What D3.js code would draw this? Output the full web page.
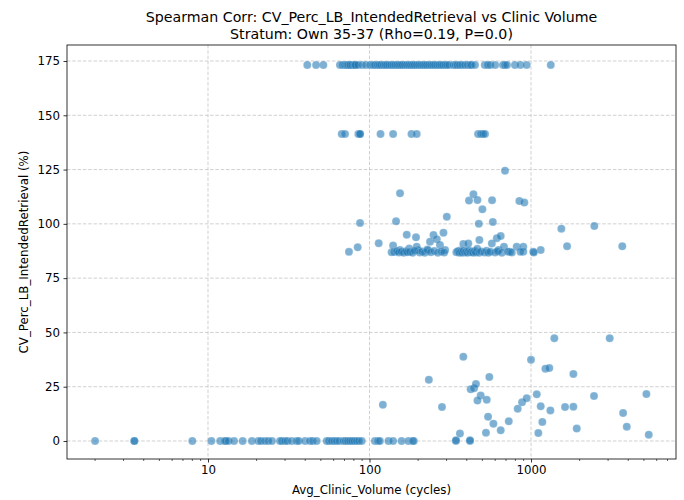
<!DOCTYPE html>
<html>
<head>
<meta charset="utf-8">
<script src="https://cdn.jsdelivr.net/npm/d3@7"></script>
<style>
  body { margin: 0; background: #fff; }
  text { font-family: "DejaVu Sans", sans-serif; fill: #000; }
</style>
</head>
<body>
<div id="scatter"></div>
<script>

// titles and axis labels
let titleLines = [
	"Spearman Corr: CV_Perc_LB_IntendedRetrieval vs Clinic Volume",
	"Stratum: Own 35-37 (Rho=0.19, P=0.0)"
];
let xLabel = "Avg_Clinic_Volume (cycles)";
let yLabel = "CV_Perc_LB_IntendedRetrieval (%)";

let xTicks = [10, 100, 1000];
let yTicks = [0, 25, 50, 75, 100, 125, 150, 175];

// clinics sitting at CV = 0
let zeroRowVolumes = [
	2.0, 3.5, 3.5, 8.0, 10.5, 11.9, 12.7, 12.9, 13.4, 14.5, 16.4, 18.7, 20.5, 21.3,
	22.5, 23.6, 24.9, 27.9, 28.6, 30.0, 31.0, 33.0, 35.4, 36.5, 39.9, 42.8, 44.5,
	47.1, 54.3, 56.0, 58.4, 60.5, 62.7, 65.0, 68.9, 71.0, 73.5, 75.7, 78.0, 80.5,
	83.3, 86.0, 89.5, 108, 113, 116, 131, 140, 158, 174, 185, 188, 343, 419
];

// clinics at the top row (CV ~ 173.2)
let topRowVolumes = [
	41.2, 46.7, 51.8, 65.6, 68, 70.4, 72, 73, 74, 75.7, 76, 78, 80, 81.3, 82, 85, 89.9,
	95, 100.7, 105, 108, 112, 115, 118, 122, 125, 128, 132, 136, 140, 144, 148, 152,
	156, 160, 165, 170, 175, 180, 185, 190, 196, 202, 208, 214, 220, 226, 233, 240,
	247, 254, 262, 270, 277, 285, 294, 302, 311, 330, 340, 350, 362, 375, 390, 405,
	420, 428, 450, 517, 540, 560, 600, 670, 690, 710, 795, 860, 940, 1325
];

// clinics at CV ~ 141.4
let row141Volumes = [67.3, 70.5, 85.3, 87.4, 87.4, 117, 140, 182, 196, 470, 490, 505, 519];

// the middle cluster [volume, cv]
let clusterPoints = [
	[74.6, 87.1], [84.5, 89.2], [87.4, 100.4], [114, 91.1], [137, 86.9], [140, 90],
	[146, 101.2], [154.5, 114.1], [154.5, 88], [170, 95], [176, 88.6], [194, 93.8],
	[196, 89.5], [200, 88], [231, 87.7], [237, 91.8], [249, 94.9], [261, 92.9],
	[273, 90.3], [287, 95.9], [301, 103.3], [294, 88], [363, 87.7], [381, 90.7],
	[409, 91], [413, 110.7], [440, 113.6], [466, 111], [475, 100], [479, 92.6],
	[500, 106.7], [574, 110.9], [580, 100.9], [572, 91], [614, 93.4], [649, 94.4],
	[630, 88], [690, 124.5], [680, 89.5], [741, 87.2], [815, 89.5], [847, 110.5],
	[909, 109.8], [896, 89.5], [896, 87.2], [1033, 87.2], [1148, 88], [1541, 97.8],
	[1672, 89.7], [2466, 99], [3673, 89.7],
	[142, 87], [148, 87.5], [152, 86.8], [158, 87.2], [163, 86.7], [168, 87.4],
	[172, 86.9], [178, 87.1], [185, 86.7], [190, 87.6], [205, 86.8], [212, 87.3],
	[220, 86.7], [228, 88.2], [240, 86.9], [252, 87.5], [265, 86.7], [278, 87.3],
	[290, 86.8], [345, 86.9], [352, 87.4], [360, 86.7], [368, 87.2], [375, 86.7],
	[382, 87.6], [390, 86.8], [398, 87.3], [405, 86.7], [412, 87.8], [420, 86.9],
	[430, 87.2], [438, 86.7], [448, 87.5], [455, 86.8], [465, 88.5], [478, 86.7],
	[490, 87.3], [515, 86.8], [530, 87.6], [545, 86.7], [560, 87.2], [600, 86.8],
	[620, 87.4], [660, 86.7], [720, 87.2], [760, 86.8], [860, 87.1], [1040, 86.8]
];

// the lower scatter [volume, cv]
let lowPoints = [
	[121, 16.7], [233, 28.2], [281, 15.7], [343, 0.3], [363, 3.4], [381, 38.8],
	[419, 0.3], [423, 23.8], [444, 24.3], [456, 26.3], [488, 21.0], [466, 18.6],
	[532, 19.0], [552, 29.5], [542, 11.2], [585, 8.0], [526, 3.8], [649, 4.9],
	[728, 9.1], [827, 14.9], [880, 17.8], [940, 19.7], [1000, 37.4], [1085, 21.5],
	[1148, 16.0], [1110, 3.7], [1175, 8.8], [1227, 33.3], [1298, 33.6], [1318, 14.1],
	[1394, 47.3], [1624, 15.7], [1829, 15.8], [1829, 30.9], [1919, 5.7], [2455, 20.7],
	[3070, 47.3], [3716, 12.9], [3916, 6.6], [5180, 21.6], [5356, 2.9]
];

let margin = { top: 45, right: 8, bottom: 41, left: 67 },
	width = 684 - margin.left - margin.right,
	height = 500 - margin.top - margin.bottom;

let svg = d3
	.select("#scatter")
	.append("svg")
	.attr("width", 684)
	.attr("height", 500);

let g = svg.append("g")
	.attr("transform", "translate(" + margin.left + "," + margin.top + ")");

let x = d3.scaleLog().domain([1.34, 7900]).range([0, width]);
let y = d3.scaleLinear().domain([-8.29, 182.37]).range([height, 0]);

// grid lines
g.selectAll(".xgrid")
	.data(xTicks)
	.enter()
	.append("line")
	.attr("x1", d => x(d)).attr("x2", d => x(d))
	.attr("y1", 0).attr("y2", height)
	.attr("stroke", "#c4c4c4").attr("stroke-width", 0.8)
	.attr("stroke-dasharray", "3.5,1.8");

g.selectAll(".ygrid")
	.data(yTicks)
	.enter()
	.append("line")
	.attr("x1", 0).attr("x2", width)
	.attr("y1", d => y(d)).attr("y2", d => y(d))
	.attr("stroke", "#c4c4c4").attr("stroke-width", 0.8)
	.attr("stroke-dasharray", "3.5,1.8");

// all the points in one list
let points = []
	.concat(zeroRowVolumes.map(v => [v, 0]))
	.concat(topRowVolumes.map(v => [v, 173.2]))
	.concat(row141Volumes.map(v => [v, 141.4]))
	.concat(clusterPoints)
	.concat(lowPoints);

g.selectAll(".dot")
	.data(points)
	.enter()
	.append("circle")
	.attr("cx", d => x(d[0]))
	.attr("cy", d => y(d[1]))
	.attr("r", 4)
	.attr("fill", "#1f77b4")
	.attr("fill-opacity", 0.58)
	.attr("stroke", "#ffffff")
	.attr("stroke-opacity", 0.3)
	.attr("stroke-width", 0.6);

// axes
let minorTicks = [];
[1, 10, 100, 1000].forEach(function (p) {
	for (let k = 2; k <= 9; k++) {
		let v = k * p;
		if (v >= 1.34 && v <= 7900) minorTicks.push(v);
	}
});

let xAxis = g.append("g")
	.attr("transform", "translate(0," + height + ")")
	.call(d3.axisBottom(x).tickValues(xTicks).tickFormat(d3.format("d")).tickSize(3.5).tickPadding(3.5));

xAxis.selectAll(".minor")
	.data(minorTicks)
	.enter()
	.append("line")
	.attr("x1", d => x(d)).attr("x2", d => x(d))
	.attr("y1", 0).attr("y2", 2)
	.attr("stroke", "#000").attr("stroke-width", 0.6);

let yAxis = g.append("g")
	.call(d3.axisLeft(y).tickValues(yTicks).tickSize(3.5).tickPadding(3.5));

[xAxis, yAxis].forEach(function (a) {
	a.select(".domain").remove();
	a.selectAll(".tick line").attr("stroke", "#000").attr("stroke-width", 0.8);
	a.selectAll("text").style("font-size", "11.8px").style("font-family", "DejaVu Sans");
});

// frame
g.append("rect")
	.attr("x", 0).attr("y", 0)
	.attr("width", width).attr("height", height)
	.attr("fill", "none")
	.attr("stroke", "#000")
	.attr("stroke-width", 0.8);

// titles
svg.selectAll(".title")
	.data(titleLines)
	.enter()
	.append("text")
	.attr("x", margin.left + width / 2)
	.attr("y", (d, i) => 22 + i * 16.5)
	.attr("text-anchor", "middle")
	.style("font-size", "14.2px")
	.text(d => d);

svg.append("text")
	.attr("x", margin.left + width / 2)
	.attr("y", 494)
	.attr("text-anchor", "middle")
	.style("font-size", "11.8px")
	.text(xLabel);

svg.append("text")
	.attr("transform", "rotate(-90)")
	.attr("x", -(margin.top + height / 2))
	.attr("y", 28)
	.attr("text-anchor", "middle")
	.style("font-size", "11.8px")
	.text(yLabel);

</script>
</body>
</html>
